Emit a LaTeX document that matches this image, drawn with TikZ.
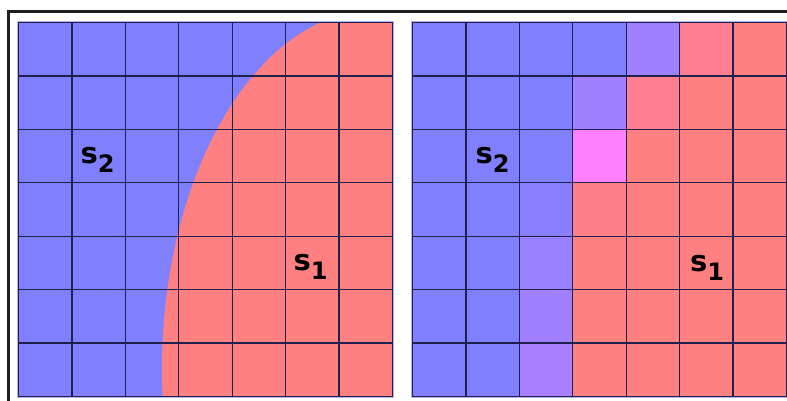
\documentclass[tikz,border=0pt]{standalone}
\usepackage{fontspec}
\setmainfont{DejaVu Sans}
\definecolor{cb}{HTML}{8080FF}
\definecolor{cr}{HTML}{FF8080}
\definecolor{cpa}{HTML}{A080FF}
\definecolor{cpk}{HTML}{FF7F90}
\definecolor{cpk2}{HTML}{FF7F88}
\definecolor{cmg}{HTML}{FF80FF}
\definecolor{cq}{HTML}{8880FF}
\definecolor{cp2}{HTML}{9880FF}
\definecolor{cp3}{HTML}{A080FF}
\definecolor{cp4}{HTML}{A880FF}
\definecolor{gridc}{HTML}{20204E}
\definecolor{halo}{HTML}{B4B0EC}
\definecolor{framec}{HTML}{1E1E1E}
\newcommand\labsub[1]{\raisebox{-9pt}{\fontsize{24}{24}\selectfont #1}}
\begin{document}
\begin{tikzpicture}[x=1pt,y=-1pt,
  frameline/.style={draw=framec,line width=3pt},
  gridline/.style={draw=gridc,line width=1.4pt},
  haloline/.style={draw=halo,line width=3pt},
  lab/.style={anchor=base west,inner sep=0pt,font=\bfseries\fontsize{29}{29}\selectfont,text=black}]
\useasboundingbox (0,0) rectangle (787,401);
\fill[white] (0,0) rectangle (787,401);
\draw[frameline] (8.5,402) -- (8.5,11.5) -- (788,11.5);
% ---------- left panel ----------
\draw[haloline] (18.5,22.5) rectangle (392.5,396.5);
\fill[cb] (18.5,22.5) rectangle (392.5,396.5);
\begin{scope}
\clip (18.5,22.5) rectangle (392.5,396.5);
\fill[cr] (377,370) ellipse [x radius=215, y radius=360];
\end{scope}
\foreach \i in {1,...,6} {
  \draw[gridline] ({18.5+\i*374/7},22.5) -- ({18.5+\i*374/7},396.5);
  \draw[gridline] (18.5,{22.5+\i*374/7}) -- (392.5,{22.5+\i*374/7});
}
\draw[gridline] (18.5,22.5) rectangle (392.5,396.5);
% ---------- right panel ----------
\draw[haloline] (412.5,22.5) rectangle (786.5,396.5);
\foreach \row/\cols in {0/{cb,cb,cb,cb,cpa,cpk,cr},
                        1/{cb,cb,cb,cpa,cpk,cr,cr},
                        2/{cb,cb,cb,cmg,cr,cr,cr},
                        3/{cb,cb,cq,cpk2,cr,cr,cr},
                        4/{cb,cb,cp2,cr,cr,cr,cr},
                        5/{cb,cb,cp3,cr,cr,cr,cr},
                        6/{cb,cb,cp4,cr,cr,cr,cr}} {
  \foreach \c [count=\col from 0] in \cols {
    \fill[\c] ({412.5+\col*374/7},{22.5+\row*374/7}) rectangle ({412.5+(\col+1)*374/7},{22.5+(\row+1)*374/7});
  }
}
\foreach \i in {1,...,6} {
  \draw[gridline] ({412.5+\i*374/7},22.5) -- ({412.5+\i*374/7},396.5);
  \draw[gridline] (412.5,{22.5+\i*374/7}) -- (786.5,{22.5+\i*374/7});
}
\draw[gridline] (412.5,22.5) rectangle (786.5,396.5);
% ---------- labels ----------
\node[lab] (ls2) at (80.5,164) {s\labsub{2}};
\node[lab] (ls1) at (293.5,270) {s\labsub{1}};
\node[lab] (rs2) at (475.5,164) {s\labsub{2}};
\node[lab] (rs1) at (690,271) {s\labsub{1}};
\end{tikzpicture}
\end{document}
